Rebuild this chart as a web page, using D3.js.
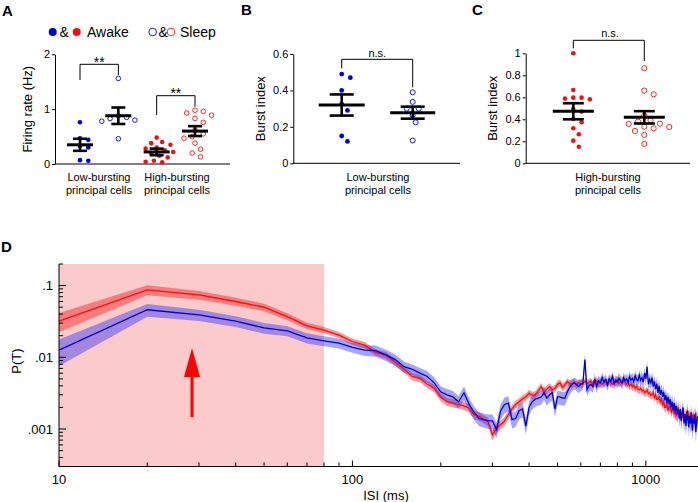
<!DOCTYPE html>
<html><head><meta charset="utf-8">
<script src="https://cdn.jsdelivr.net/npm/d3@7"></script>
<style>
body{margin:0;background:#fff}
svg{display:block}
text{font-family:"Liberation Sans",Arial,Helvetica,sans-serif;fill:#000}
</style>
</head><body>
<svg id="c" width="698" height="502"></svg>
<script>
// ---------------- DATA ----------------
// Panel A: firing rate (Hz)
const lowAwakeRate  = [0.76, 0.47, 0.44, 0.33, 0.30, 0.07, 0.06];
const lowSleepRate  = [1.56, 0.88, 0.85, 0.83, 0.80, 0.78, 0.46];
const highAwakeRate = [0.48, 0.40, 0.38, 0.35, 0.30, 0.28, 0.25, 0.22, 0.20, 0.15, 0.12, 0.06, 0.04, 0.03];
const highSleepRate = [0.98, 0.96, 0.93, 0.89, 0.83, 0.76, 0.62, 0.55, 0.50, 0.47, 0.38, 0.27, 0.20, 0.13];
const rateMean = [0.35, 0.88, 0.22, 0.60];
const rateSem  = [0.11, 0.15, 0.06, 0.09];
const rateTicks = [0, 1, 2];
const cellTypes = ["Low-bursting", "High-bursting"];

// Panel B: burst index, low-bursting cells
const lowAwakeBurst = [0.49, 0.47, 0.40, 0.325, 0.29, 0.15, 0.12];
const lowSleepBurst = [0.39, 0.337, 0.30, 0.30, 0.265, 0.225, 0.125];
const lowBurstMean = [0.32, 0.278];
const lowBurstSem  = [0.058, 0.033];
const burstTicksB = [0, 0.2, 0.4, 0.6];

// Panel C: burst index, high-bursting cells
const highAwakeBurst = [1.0, 0.667, 0.597, 0.588, 0.582, 0.597, 0.494, 0.47, 0.403, 0.373, 0.318, 0.264, 0.206, 0.15];
const highSleepBurst = [0.864, 0.661, 0.627, 0.433, 0.39, 0.379, 0.358, 0.36, 0.333, 0.33, 0.318, 0.294, 0.258, 0.176];
const highBurstMean = [0.473, 0.418];
const highBurstSem  = [0.073, 0.056];
const burstTicksC = [0, 0.2, 0.4, 0.6, 0.8, 1];

// Panel D: ISI distribution P(T)
const isi = [10,20,30,40,50,60,70,80,90,100,110,120,130,140,150,160,170,180,190,200,
210,220,230,240,250,260,270,280,290,300,310,320,330,340,350,360,370,380,390,400,
410,420,430,440,450,460,470,480,490,500,510,520,530,540,550,560,570,580,590,600,
610,620,630,640,650,660,670,680,690,700,710,720,730,740,750,760,770,780,790,800,
810,820,830,840,850,860,870,880,890,900,910,920,930,940,950,960,970,980,990,1000,
1010,1020,1030,1040,1050,1060,1070,1080,1090,1100,1110,1120,1130,1140,1150,1160,1170,1180,1190,1200,
1210,1220,1230,1240,1250,1260,1270,1280,1290,1300,1310,1320,1330,1340,1350,1360,1370,1380,1390,1400,
1410,1420,1430,1440,1450,1460,1470,1480,1490,1500];
const highBurstP = [0.032,0.087,0.074,0.060,0.050,0.037,0.0275,0.024,0.0204,0.0166,
0.0148,0.0117,0.0107,0.0085,0.0068,0.0054,0.0051,0.0042,0.0037,0.0028,
0.0024,0.0023,0.0022,0.0021,0.00195,0.00158,0.00151,0.00138,0.00126,0.00083,
0.00102,0.00115,0.00129,0.00158,0.00191,0.0022,0.0024,0.00263,0.0028,0.00316,
0.00295,0.0030,0.0034,0.0039,0.0033,0.0036,0.0039,0.0035,0.0037,0.0042,
0.0044,0.0038,0.0041,0.0046,0.0043,0.0042,0.0045,0.0041,0.0044,0.0043,
0.0042,0.0047,0.0043,0.0045,0.0046,0.0042,0.0044,0.0047,0.0043,0.0045,
0.0042,0.0044,0.0046,0.0043,0.0047,0.0044,0.0042,0.0046,0.0045,0.0048,
0.0043,0.0046,0.0044,0.0047,0.0045,0.0042,0.0044,0.0040,0.0042,0.0039,
0.0041,0.0037,0.0039,0.0036,0.0035,0.0037,0.0034,0.0035,0.0032,0.0033,
0.0035,0.0031,0.0032,0.00295,0.0030,0.0032,0.00275,0.0030,0.0026,0.0026,
0.0028,0.0024,0.0026,0.0022,0.0024,0.0020,0.0020,0.0023,0.0018,0.0020,
0.0022,0.0017,0.0019,0.0020,0.0016,0.0018,0.0015,0.0017,0.0020,0.0015,
0.0017,0.0014,0.0017,0.0016,0.0013,0.0016,0.0014,0.0018,0.0013,0.0015,
0.0013,0.0017,0.0012,0.0014,0.0016,0.0012,0.0014,0.0017,0.0011,0.0014];
const lowBurstP = [0.0126,0.046,0.039,0.032,0.0257,0.0234,0.0186,0.017,0.0158,0.0138,
0.0126,0.0124,0.0108,0.0093,0.0074,0.0068,0.0060,0.0054,0.0044,0.0033,
0.0030,0.0028,0.0024,0.0032,0.0022,0.0017,0.0014,0.00135,0.0013,0.0013,
0.00098,0.0018,0.0022,0.0023,0.00135,0.0014,0.0018,0.0019,0.0011,0.0020,
0.0024,0.0026,0.0027,0.0028,0.0032,0.0027,0.0030,0.0032,0.0019,0.0028,
0.0028,0.0027,0.0027,0.0033,0.0038,0.0042,0.0044,0.0042,0.0039,0.0042,
0.0043,0.0093,0.0035,0.0040,0.0042,0.0039,0.0050,0.0039,0.0047,0.0044,
0.0052,0.0045,0.0049,0.0041,0.0050,0.0046,0.0054,0.0043,0.0048,0.0045,
0.0051,0.0047,0.0044,0.0052,0.0047,0.0050,0.0045,0.0054,0.0048,0.0051,
0.0046,0.0055,0.0049,0.0047,0.0056,0.0048,0.0052,0.0045,0.0060,0.0050,
0.0074,0.0042,0.0049,0.0044,0.0052,0.0039,0.0046,0.0036,0.0043,0.0032,
0.0040,0.0030,0.0035,0.0028,0.0033,0.0025,0.0030,0.0023,0.0028,0.0022,
0.0026,0.0020,0.0024,0.0018,0.0023,0.0017,0.0021,0.0016,0.0019,0.0014,
0.0019,0.0013,0.0017,0.0020,0.0012,0.0016,0.0011,0.0015,0.0018,0.00105,
0.0015,0.0012,0.0017,0.00095,0.0014,0.0012,0.0016,0.0009,0.0013,0.0015];
// relative s.e.m. (fraction of P)
const highBurstRelSem = [0.30,0.16,0.14,0.13,0.12,0.11,0.10,0.10,0.10,0.10,
0.10,0.10,0.11,0.11,0.11,0.12,0.12,0.12,0.12,0.13,
0.13,0.13,0.12,0.13,0.13,0.14,0.14,0.13,0.14,0.16,
0.15,0.14,0.14,0.13,0.13,0.13,0.12,0.13,0.13,0.12,
0.13,0.12,0.13,0.12,0.13,0.13,0.12,0.13,0.12,0.12,
0.12,0.13,0.12,0.12,0.12,0.13,0.12,0.12,0.12,0.12,
0.12,0.12,0.13,0.12,0.12,0.12,0.12,0.12,0.12,0.12,
0.12,0.12,0.12,0.12,0.12,0.12,0.12,0.12,0.12,0.12,
0.12,0.12,0.12,0.12,0.12,0.12,0.12,0.13,0.12,0.13,
0.13,0.13,0.13,0.13,0.13,0.13,0.13,0.13,0.13,0.13,
0.13,0.13,0.13,0.14,0.13,0.14,0.14,0.14,0.14,0.14,
0.14,0.14,0.14,0.15,0.14,0.15,0.15,0.15,0.15,0.15,
0.15,0.15,0.15,0.16,0.15,0.16,0.16,0.16,0.16,0.16,
0.16,0.16,0.16,0.17,0.16,0.17,0.17,0.17,0.17,0.17,
0.17,0.17,0.17,0.18,0.17,0.18,0.18,0.18,0.18,0.18];
const lowBurstRelSem = [0.40,0.20,0.18,0.17,0.17,0.16,0.16,0.16,0.16,0.16,
0.17,0.18,0.18,0.18,0.18,0.17,0.18,0.18,0.19,0.20,
0.20,0.21,0.20,0.22,0.21,0.21,0.22,0.22,0.23,0.23,
0.24,0.24,0.25,0.24,0.25,0.24,0.24,0.23,0.24,0.23,
0.22,0.22,0.21,0.22,0.21,0.22,0.22,0.22,0.23,0.22,
0.22,0.22,0.21,0.21,0.20,0.20,0.19,0.19,0.19,0.19,
0.19,0.19,0.19,0.18,0.18,0.18,0.18,0.18,0.18,0.18,
0.18,0.18,0.18,0.18,0.18,0.18,0.18,0.18,0.18,0.18,
0.18,0.18,0.18,0.18,0.18,0.18,0.18,0.18,0.18,0.18,
0.18,0.18,0.18,0.18,0.18,0.19,0.19,0.19,0.19,0.19,
0.20,0.20,0.20,0.20,0.20,0.21,0.21,0.21,0.21,0.21,
0.22,0.22,0.22,0.22,0.22,0.23,0.23,0.23,0.23,0.23,
0.24,0.24,0.24,0.24,0.24,0.25,0.25,0.25,0.25,0.25,
0.26,0.26,0.26,0.26,0.26,0.27,0.27,0.27,0.27,0.27,
0.28,0.28,0.28,0.28,0.28,0.28,0.28,0.28,0.28,0.28];
const burstWindowMs = 80;
const pTickValues = [0.1, 0.01, 0.001];
const pTickLabels = [".1", ".01", ".001"];
const isiTickValues = [10, 100, 1000];

// ---------------- DRAWING ----------------
const svg = d3.select("#c");
const BLUE = "#0000dd", RED = "#ee1111";

function swarm(vals, cx, y, r) {
  const order = vals.map((v, i) => ({v, i})).sort((a, b) => b.v - a.v);
  const placed = [], out = new Array(vals.length);
  const minD = 2 * r + 2.4, step = r * 1.2;
  for (const o of order) {
    const py = y(o.v);
    let px = cx;
    for (let k = 0; k < 60; k++) {
      const off = k === 0 ? 0 : (k % 2 ? 1 : -1) * Math.ceil(k / 2) * step;
      const c = cx + off;
      if (placed.every(p => Math.hypot(p[0] - c, p[1] - py) >= minD)) { px = c; break; }
    }
    placed.push([px, py]); out[o.i] = [px, py];
  }
  return out;
}

function group(g, vals, cx, y, color, filled, mean, sem, hm, hc, r) {
  swarm(vals, cx, y, r).forEach(p => {
    g.append("circle").attr("cx", p[0]).attr("cy", p[1]).attr("r", r)
      .attr("fill", filled ? color : "none").attr("stroke", filled ? "none" : color)
      .attr("stroke-width", 0.9);
  });
  const k = "#000";
  g.append("line").attr("x1", cx - hm).attr("x2", cx + hm).attr("y1", y(mean)).attr("y2", y(mean))
    .attr("stroke", k).attr("stroke-width", 3);
  g.append("line").attr("x1", cx).attr("x2", cx).attr("y1", y(mean - sem)).attr("y2", y(mean + sem))
    .attr("stroke", k).attr("stroke-width", 2.6);
  [mean - sem, mean + sem].forEach(v => g.append("line").attr("x1", cx - hc).attr("x2", cx + hc)
    .attr("y1", y(v)).attr("y2", y(v)).attr("stroke", k).attr("stroke-width", 2.6));
}

function yAxis(g, x, scale, ticks, fmt) {
  const a = g.append("g").attr("transform", `translate(${x},0)`)
    .call(d3.axisLeft(scale).tickValues(ticks).tickSize(3).tickSizeOuter(0).tickPadding(2).tickFormat(fmt));
  a.selectAll("text").attr("font-size", 11).style("font-family", '"Liberation Sans",Arial,sans-serif');
  a.selectAll("path,line").attr("stroke", "#000");
  return a;
}

function bracket(g, x1, x2, top, e1, e2) {
  g.append("path").attr("d", `M${x1},${e1}V${top}H${x2}V${e2}`).attr("fill", "none")
    .attr("stroke", "#000").attr("stroke-width", 1);
}

function label2(g, cx, text1) {
  g.append("text").attr("x", cx).attr("y", 181).attr("text-anchor", "middle").attr("font-size", 11).text(text1);
  g.append("text").attr("x", cx).attr("y", 194).attr("text-anchor", "middle").attr("font-size", 11).text("principal cells");
}

function panelLetter(x, y, t) {
  svg.append("text").attr("x", x).attr("y", y).attr("font-size", 15).attr("font-weight", "bold").text(t);
}

// ---- Panel A ----
{
  const g = svg.append("g");
  const x = d3.scalePoint().domain(["lowAwake", "lowSleep", "highAwake", "highSleep"]).range([80, 195]);
  const y = d3.scaleLinear().domain([0, 2]).range([164, 54.3]);
  yAxis(g, 55, y, rateTicks, d3.format("d"));
  g.append("line").attr("x1", 55).attr("x2", 230).attr("y1", y(0)).attr("y2", y(0)).attr("stroke", "#000");
  const sets = [lowAwakeRate, lowSleepRate, highAwakeRate, highSleepRate];
  const cols = [BLUE, BLUE, RED, RED];
  x.domain().forEach((d, i) => group(g, sets[i], x(d), y, cols[i], i % 2 === 0, rateMean[i], rateSem[i], 13, 7, 2.3));
  bracket(g, x("lowAwake"), x("lowSleep"), 64.3, 80, 75);
  bracket(g, x("highAwake"), x("highSleep"), 95.7, 115, 106.7);
  g.append("text").attr("x", (x("lowAwake") + x("lowSleep")) / 2).attr("y", 67).attr("text-anchor", "middle").attr("font-size", 14).text("**");
  g.append("text").attr("x", (x("highAwake") + x("highSleep")) / 2).attr("y", 97.5).attr("text-anchor", "middle").attr("font-size", 14).text("**");
  label2(g, 99, cellTypes[0]);
  label2(g, 177, cellTypes[1]);
  g.append("text").attr("transform", `translate(32,${(y(0) + y(2)) / 2}) rotate(-90)`).attr("text-anchor", "middle").attr("font-size", 13).text("Firing rate (Hz)");
  // legend
  const ly = 32;
  g.append("circle").attr("cx", 52.7).attr("cy", ly).attr("r", 4).attr("fill", BLUE);
  g.append("text").attr("x", 59.5).attr("y", ly + 5).attr("font-size", 14).text("&");
  g.append("circle").attr("cx", 76.7).attr("cy", ly).attr("r", 4).attr("fill", RED);
  g.append("text").attr("x", 87).attr("y", ly + 5).attr("font-size", 14).text("Awake");
  g.append("circle").attr("cx", 152.7).attr("cy", ly).attr("r", 3.8).attr("fill", "none").attr("stroke", BLUE).attr("stroke-width", 0.9);
  g.append("text").attr("x", 158.5).attr("y", ly + 5).attr("font-size", 14).text("&");
  g.append("circle").attr("cx", 171).attr("cy", ly).attr("r", 3.8).attr("fill", "none").attr("stroke", RED).attr("stroke-width", 0.9);
  g.append("text").attr("x", 180).attr("y", ly + 5).attr("font-size", 14).text("Sleep");
  panelLetter(2, 16, "A");
}

// ---- Panel B ----
{
  const g = svg.append("g");
  const x = d3.scalePoint().domain(["awake", "sleep"]).range([341.7, 412.7]);
  const y = d3.scaleLinear().domain([0, 0.6]).range([163.3, 54]);
  yAxis(g, 293.3, y, burstTicksB, d => d === 0 ? "0" : d3.format(".1f")(d));
  g.append("line").attr("x1", 293.3).attr("x2", 460).attr("y1", y(0)).attr("y2", y(0)).attr("stroke", "#000");
  group(g, lowAwakeBurst, x("awake"), y, BLUE, true, lowBurstMean[0], lowBurstSem[0], 23, 12, 2.4);
  group(g, lowSleepBurst, x("sleep"), y, BLUE, false, lowBurstMean[1], lowBurstSem[1], 22.5, 12, 2.5);
  bracket(g, x("awake"), x("sleep"), 59.3, 68.3, 87.3);
  g.append("text").attr("x", 377.3).attr("y", 56.5).attr("text-anchor", "middle").attr("font-size", 11).text("n.s.");
  label2(g, 378, cellTypes[0]);
  g.append("text").attr("transform", `translate(265,${(y(0) + y(0.6)) / 2}) rotate(-90)`).attr("text-anchor", "middle").attr("font-size", 13).text("Burst index");
  panelLetter(241, 15, "B");
}

// ---- Panel C ----
{
  const g = svg.append("g");
  const x = d3.scalePoint().domain(["awake", "sleep"]).range([573.3, 644.3]);
  const y = d3.scaleLinear().domain([0, 1]).range([163.3, 53.3]);
  yAxis(g, 525.7, y, burstTicksC, d => (d === 0 || d === 1) ? d3.format("d")(d) : d3.format(".1f")(d));
  g.append("line").attr("x1", 525.7).attr("x2", 690).attr("y1", y(0)).attr("y2", y(0)).attr("stroke", "#000");
  group(g, highAwakeBurst, x("awake"), y, RED, true, highBurstMean[0], highBurstSem[0], 20.5, 10.5, 2.3);
  group(g, highSleepBurst, x("sleep"), y, RED, false, highBurstMean[1], highBurstSem[1], 20.5, 10.5, 2.6);
  bracket(g, x("awake"), x("sleep"), 40.3, 48.3, 61);
  g.append("text").attr("x", 610).attr("y", 36.5).attr("text-anchor", "middle").attr("font-size", 11).text("n.s.");
  label2(g, 608, cellTypes[1]);
  g.append("text").attr("transform", `translate(496.5,${(y(0) + y(1)) / 2}) rotate(-90)`).attr("text-anchor", "middle").attr("font-size", 13).text("Burst index");
  panelLetter(472, 15, "C");
}

// ---- Panel D ----
{
  const g = svg.append("g");
  const x = d3.scaleLog().domain([10, 1500]).range([59, 697.5]);
  const y = d3.scaleLog().domain([0.0003, 0.2]).range([466.5, 264]);
  g.append("rect").attr("x", x(10)).attr("y", y(0.2)).attr("width", x(burstWindowMs) - x(10))
    .attr("height", y(0.0003) - y(0.2)).attr("fill", "#fbcaca");
  const idx = d3.range(isi.length);
  const area = (P, R) => d3.area().x(i => x(isi[i])).y0(i => y(P[i] * (1 - R[i]))).y1(i => y(P[i] * (1 + R[i])));
  const line = P => d3.line().x(i => x(isi[i])).y(i => y(P[i]));
  g.append("path").attr("d", area(highBurstP, highBurstRelSem)(idx)).attr("fill", "rgba(240,30,30,0.45)");
  g.append("path").attr("d", area(lowBurstP, lowBurstRelSem)(idx)).attr("fill", "rgba(40,40,250,0.42)");
  g.append("path").attr("d", line(highBurstP)(idx)).attr("fill", "none").attr("stroke", "#ff0a0a").attr("stroke-width", 1.3);
  g.append("path").attr("d", line(lowBurstP)(idx)).attr("fill", "none").attr("stroke", "#0000d0").attr("stroke-width", 1.3);
  // arrow
  g.append("line").attr("x1", 192).attr("x2", 192).attr("y1", 417).attr("y2", 374).attr("stroke", "#ff0000").attr("stroke-width", 3);
  g.append("path").attr("d", "M184,377L200,377L192,348Z").attr("fill", "#ff0000");
  // y axis (ticks inward)
  const yMinor = [];
  [0.0001, 0.001, 0.01, 0.1].forEach(b => { for (let m = 2; m <= 9; m++) { const v = b * m; if (v >= 0.0003 && v <= 0.2 + 1e-9) yMinor.push(v); } });
  const ya = g.append("g").attr("transform", `translate(${x(10)},0)`);
  ya.append("line").attr("y1", y(0.0003)).attr("y2", y(0.2)).attr("stroke", "#000");
  yMinor.forEach(v => ya.append("line").attr("x1", 0).attr("x2", 4).attr("y1", y(v)).attr("y2", y(v)).attr("stroke", "#000"));
  pTickValues.forEach((v, i) => {
    ya.append("line").attr("x1", 0).attr("x2", 7).attr("y1", y(v)).attr("y2", y(v)).attr("stroke", "#000");
    ya.append("text").attr("x", -6).attr("y", y(v) + 4.5).attr("text-anchor", "end").attr("font-size", 13).text(pTickLabels[i]);
  });
  // x axis (ticks inward)
  const xMinor = [];
  [10, 100, 1000].forEach(b => { for (let m = 2; m <= 9; m++) { const v = b * m; if (v <= 1500) xMinor.push(v); } });
  const xa = g.append("g").attr("transform", `translate(0,${y(0.0003)})`);
  xa.append("line").attr("x1", x(10)).attr("x2", 698).attr("stroke", "#000");
  xMinor.forEach(v => xa.append("line").attr("x1", x(v)).attr("x2", x(v)).attr("y1", 0).attr("y2", -4).attr("stroke", "#000"));
  isiTickValues.forEach(v => {
    xa.append("line").attr("x1", x(v)).attr("x2", x(v)).attr("y1", 0).attr("y2", -6).attr("stroke", "#000");
    xa.append("text").attr("x", x(v)).attr("y", 17).attr("text-anchor", "middle").attr("font-size", 13).text(v);
  });
  g.append("text").attr("x", 386).attr("y", 500).attr("text-anchor", "middle").attr("font-size", 13).text("ISI (ms)");
  g.append("text").attr("transform", "translate(21,361) rotate(-90)").attr("text-anchor", "middle").attr("font-size", 13).text("P(T)");
  panelLetter(1, 252, "D");
}
</script>
</body></html>
